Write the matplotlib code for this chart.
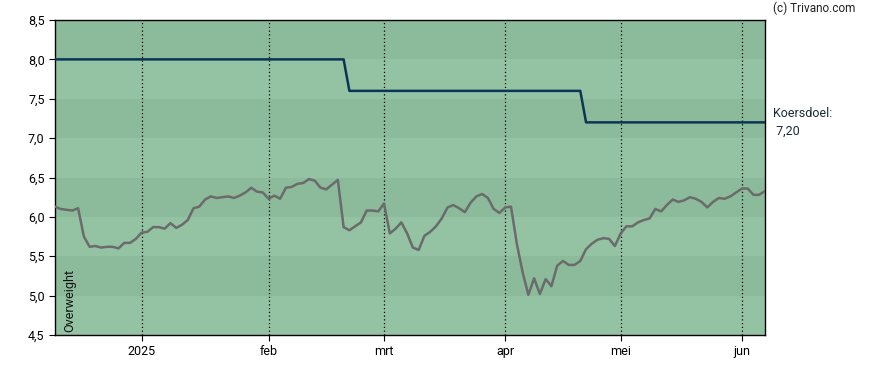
import matplotlib
matplotlib.use("Agg")
import matplotlib.pyplot as plt  # noqa: E402
import numpy as np  # noqa: E402
import pandas as pd  # noqa: E402

# trading days Dec 9 2024 .. Jun 6 2025 (Euronext holidays removed)
HOLIDAYS = ["2024-12-25", "2024-12-26", "2025-01-01", "2025-04-18",
            "2025-04-21", "2025-05-01"]
dates = pd.bdate_range("2024-12-09", "2025-06-06")
dates = dates[~dates.isin(pd.to_datetime(HOLIDAYS))]

price = [
    6.13, 6.10, 6.09, 6.08, 6.11, 5.75, 5.62, 5.63, 5.61, 5.62,
    5.62, 5.60, 5.67, 5.67, 5.72, 5.80, 5.81, 5.87, 5.87, 5.85,
    5.92, 5.86, 5.90, 5.96, 6.11, 6.13, 6.22, 6.26, 6.24, 6.25,
    6.26, 6.24, 6.27, 6.31, 6.37, 6.32, 6.31, 6.23, 6.27, 6.23,
    6.37, 6.38, 6.42, 6.43, 6.48, 6.46, 6.37, 6.35, 6.41, 6.47,
    5.87, 5.83, 5.88, 5.93, 6.08, 6.08, 6.07, 6.17, 5.79, 5.85,
    5.93, 5.79, 5.61, 5.58, 5.76, 5.81, 5.88, 5.98, 6.12, 6.15,
    6.11, 6.06, 6.18, 6.26, 6.29, 6.24, 6.10, 6.05, 6.12, 6.13,
    5.66, 5.30, 5.01, 5.22, 5.02, 5.21, 5.12, 5.38, 5.44, 5.39,
    5.39, 5.44, 5.59, 5.66, 5.71, 5.73, 5.72, 5.63, 5.79, 5.88,
    5.88, 5.93, 5.96, 5.98, 6.10, 6.07, 6.15, 6.22, 6.19, 6.21,
    6.25, 6.23, 6.19, 6.12, 6.19, 6.24, 6.23, 6.26, 6.31, 6.36,
    6.36, 6.28, 6.28, 6.33,
]
target_levels = [8.0, 7.6, 7.2]
target_change_idx = [51, 92]   # first trading day of each new target
target_label = "Koersdoel:\n 7,20"
advice = "Overweight"

month_labels = ["2025", "feb", "mrt", "apr", "mei", "jun"]
month_starts = ["2025-01-02", "2025-02-03", "2025-03-03", "2025-04-01",
                "2025-05-02", "2025-06-02"]
y_ticks = [4.5, 5.0, 5.5, 6.0, 6.5, 7.0, 7.5, 8.0, 8.5]

DARK_BAND = "#8bbb9b"
LIGHT_BAND = "#93c3a3"

x = np.arange(len(dates))
target = np.full(len(dates), target_levels[0])
for lvl, start in zip(target_levels[1:], target_change_idx):
    target[start:] = lvl

plt.rcParams["font.family"] = ["Roboto", "DejaVu Sans"]
fig = plt.figure(figsize=(8.88, 3.70), dpi=100)
ax = fig.add_axes([55 / 888, 35 / 370, 710 / 888, 315 / 370])

# alternating horizontal bands
for k, lo in enumerate(y_ticks[:-1]):
    col = LIGHT_BAND if k % 2 == 0 else DARK_BAND
    ax.axhspan(lo, lo + 0.5, color=col, zorder=0, lw=0)

tick_pos = [dates.get_loc(pd.Timestamp(d)) for d in month_starts]
for p in tick_pos:
    ax.axvline(p, color="black", ls=(0, (1, 2)), lw=0.9, zorder=1)

ax.plot(x, price, color="#6b6b6b", lw=1.8, zorder=3)
ax.plot(x, target, color="#0b3555", lw=1.8, zorder=4)

ax.set_xlim(0, len(dates) - 1)
ax.set_ylim(4.5, 8.5)
ax.set_yticks(y_ticks)
ax.set_yticklabels([f"{v:.1f}".replace(".", ",") for v in y_ticks])
ax.set_xticks(tick_pos)
ax.set_xticklabels(month_labels)
ax.tick_params(axis="both", labelsize=9, length=4, width=0.8,
               colors="black")
for s in ax.spines.values():
    s.set_color("black")
    s.set_linewidth(1.0)

ax.text(0.012, 0.01, advice, rotation=90, transform=ax.transAxes,
        fontsize=9, ha="left", va="bottom", color="#111111", zorder=5)

fig.text(773 / 888, 1 - 8 / 370, "(c) Trivano.com", fontsize=8.5,
         ha="left", va="center", color="#222222")
ax.annotate(target_label, xy=(1, target[-1]), xycoords=("axes fraction", "data"),
            xytext=(6, 0), textcoords="offset points", fontsize=9,
            ha="left", va="center", color="#1a2a3a", linespacing=1.4)

fig.savefig("out.png", dpi=100)
